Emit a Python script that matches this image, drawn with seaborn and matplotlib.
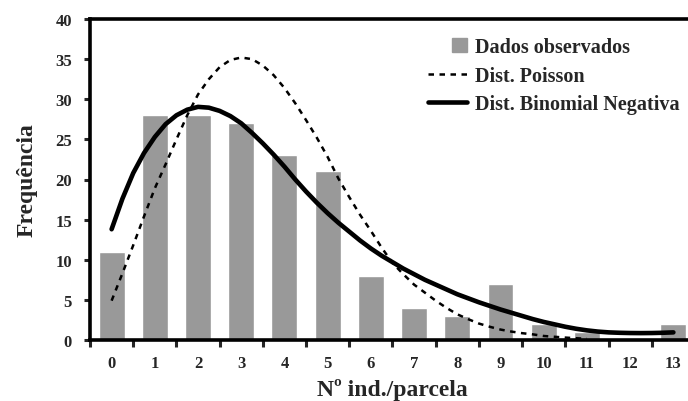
import numpy as np
import matplotlib
matplotlib.use("Agg")
import matplotlib.pyplot as plt
import matplotlib.patches as mpatches
from matplotlib.lines import Line2D
from matplotlib.legend_handler import HandlerPatch
import seaborn as sns

# Dados observados (frequência por classe de nº de indivíduos/parcela)
classes = list(range(14))
observados = [11, 28, 28, 27, 23, 21, 8, 4, 3, 7, 2, 1, 0, 2]

# Curvas (de 0.25 em 0.25)
poisson_x = [0, 0.25, 0.5, 0.75, 1, 1.25, 1.5, 1.75, 2, 2.25, 2.5, 2.75,
             3, 3.25, 3.5, 3.75, 4, 4.25, 4.5, 4.75, 5, 5.25, 5.5, 5.75,
             6, 6.25, 6.5, 6.75, 7, 7.25, 7.5, 7.75, 8, 8.25, 8.5, 8.75,
             9, 9.25, 9.5, 9.75, 10, 10.25, 10.5, 10.75, 11]
poisson_y = [4.9, 8.3, 11.8, 15.4, 18.9, 21.9, 25.0, 28.0, 30.6, 32.5, 34.0,
             34.9, 35.2, 35.0, 34.2, 33.0, 31.4, 29.5, 27.4, 25.2, 22.8, 20.1,
             17.8, 15.6, 13.6, 11.5, 9.6, 8.2, 6.9, 5.9, 4.9, 4.0, 3.2, 2.6,
             2.05, 1.65, 1.3, 1.05, 0.85, 0.7, 0.5, 0.4, 0.3, 0.22, 0.15]

binneg_x = [0, 0.25, 0.5, 0.75, 1, 1.25, 1.5, 1.75, 2, 2.25, 2.5, 2.75,
            3, 3.25, 3.5, 3.75, 4, 4.25, 4.5, 4.75, 5, 5.25, 5.5, 5.75,
            6, 6.25, 6.5, 6.75, 7, 7.25, 7.5, 7.75, 8, 8.25, 8.5, 8.75,
            9, 9.25, 9.5, 9.75, 10, 10.25, 10.5, 10.75, 11, 11.25, 11.5,
            11.75, 12, 12.25, 12.5, 12.75, 13]
binneg_y = [13.8, 17.6, 20.8, 23.3, 25.3, 26.9, 28.0, 28.7, 29.05, 28.95,
            28.55, 27.9, 27.0, 25.8, 24.5, 23.1, 21.6, 20.0, 18.5, 17.1,
            15.8, 14.6, 13.5, 12.4, 11.4, 10.5, 9.7, 8.9, 8.2, 7.5, 6.9,
            6.3, 5.7, 5.2, 4.7, 4.25, 3.8, 3.4, 3.0, 2.6, 2.25, 1.95, 1.65,
            1.4, 1.2, 1.05, 0.95, 0.9, 0.87, 0.86, 0.87, 0.9, 0.95]

yticks = [0, 5, 10, 15, 20, 25, 30, 35, 40]

sns.set_style("ticks")
plt.rcParams['font.family'] = ['Liberation Serif', 'DejaVu Serif']
plt.rcParams['font.weight'] = 'bold'

fig = plt.figure(figsize=(6.88, 4.02), dpi=100)
ax = fig.add_axes([90 / 688, 61 / 402, 605 / 688, 321 / 402])

# barras
sns.barplot(x=classes, y=observados, color='#999999', saturation=1,
            width=0.6, ax=ax)

# curvas ajustadas
sns.lineplot(x=poisson_x, y=poisson_y, color='black', lw=1.8,
             linestyle=(0, (2.2, 2.2)), ax=ax)
sns.lineplot(x=binneg_x, y=binneg_y, color='black', lw=3.3, ax=ax)

ax.set_xlim(-0.5, 13.5)
ax.set_ylim(0, 40)

# eixos
for s in ['top', 'left', 'bottom']:
    ax.spines[s].set_linewidth(2.6)
    ax.spines[s].set_color('black')
ax.spines['right'].set_visible(False)

ax.set_yticks(yticks)
ax.set_yticklabels([str(v) for v in yticks], fontsize=12, fontweight='bold')
ax.tick_params(axis='y', direction='out', length=4, width=2.2, pad=9,
               left=True)

ax.set_xticks(np.arange(-0.5, 14, 1))
ax.set_xticklabels([])
ax.set_xticks(classes, minor=True)
ax.set_xticklabels([str(c) for c in classes], minor=True, fontsize=12,
                   fontweight='bold')
ax.tick_params(axis='x', which='major', direction='out', length=5, width=2.2,
               bottom=True)
ax.tick_params(axis='x', which='minor', length=0, pad=11)

ax.set_xlabel('Nº ind./parcela', fontsize=17, fontweight='bold', labelpad=5)
ax.set_ylabel('Frequência', fontsize=17, fontweight='bold', labelpad=13)


# legenda
def patch_quadrado(legend, orig_handle, xdescent, ydescent, width, height,
                   fontsize):
    lado = height * 1.1
    return mpatches.Rectangle((width - lado - xdescent, -ydescent), lado, height)


h_bar = mpatches.Patch(color='#999999')
h_poi = Line2D([], [], color='black', lw=1.8, linestyle=(0, (2.2, 2.2)))
h_nb = Line2D([], [], color='black', lw=3.3)
fig.legend([h_bar, h_poi, h_nb],
           ['Dados observados', 'Dist. Poisson', 'Dist. Binomial Negativa'],
           loc='upper left', bbox_to_anchor=(428 / 688, 0.905),
           frameon=False, fontsize=14.5, handlelength=1.95,
           handletextpad=0.4, labelspacing=0.42, borderpad=0,
           borderaxespad=0,
           handler_map={mpatches.Patch: HandlerPatch(patch_func=patch_quadrado)})

fig.savefig('out.png', dpi=100)
